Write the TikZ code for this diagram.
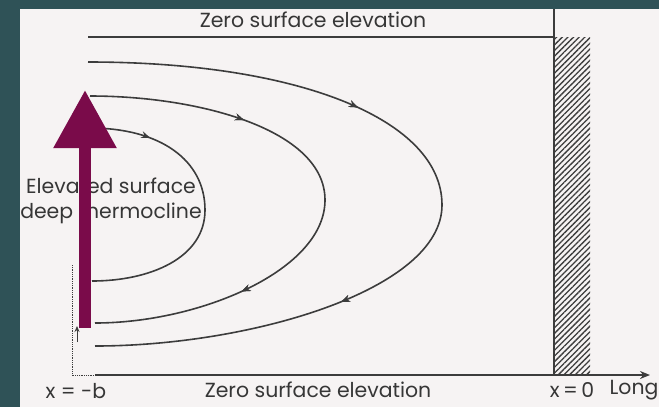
\documentclass[tikz,border=0pt]{standalone}
\usepackage{fontspec}
\setmainfont{Poppins}
\usetikzlibrary{arrows.meta,patterns.meta,decorations.markings}
\definecolor{slate}{HTML}{2F5257}
\definecolor{paper}{HTML}{F6F3F3}
\definecolor{plum}{HTML}{7A0B4A}
\definecolor{ink}{HTML}{3C3C3C}
\tikzset{
  lbl/.style={text=ink!90!black,font=\fontsize{20.5}{25}\selectfont,inner sep=0pt},
  flow/.style={ink,line width=1.6bp},
  tipA/.style={decoration={markings,mark=at position #1 with {\arrow{Stealth[length=9bp,width=7bp]}}},postaction={decorate}},
  surf/.style={ink,line width=2bp},
  wall/.style={pattern={Lines[angle=45,distance=4bp,line width=1.3bp]},pattern color=ink},
  bigarr/.style={plum,line width=12bp,-{Triangle[length=58bp,width=60bp]}},
}
\begin{document}
\begin{tikzpicture}[x=1bp,y=-1bp]
  \useasboundingbox (0,0) rectangle (659,407);
  \fill[slate] (0,0) rectangle (659,407);
  \fill[paper] (20,9) rectangle (659,407);
  % surfaces and wall
  \coordinate (ts) at (88,37);  \coordinate (te) at (554,37);
  \coordinate (wt) at (554,9);  \coordinate (wb) at (554,375);
  \coordinate (ax) at (95,375); \coordinate (axe) at (650,375);
  \fill[wall] (554,37) rectangle (590,375);
  \draw[surf] (ts) -- (te);
  \draw[surf] (wt) -- (wb);
  \draw[surf,-{Stealth[length=10bp,width=8bp]}] (ax) -- (axe);
  \draw[ink,densely dotted,line width=0.8bp] (72,265) -- (72,375) -- (ax);
  \draw[ink,line width=0.8bp,-{Stealth[length=6bp,width=5bp]}] (77,342) -- (77,326);
  % flow lines
  \coordinate (o1) at (88,62);  \coordinate (o2) at (95,346);
  \coordinate (m1) at (90,96);  \coordinate (m2) at (95,323);
  \coordinate (i1) at (90,128); \coordinate (i2) at (92,281);
  \draw[flow,tipA=0.34,tipA=0.69] (o1) .. controls (300,62) and (442,120) .. (442,205)
        .. controls (442,290) and (250,346) .. (o2);
  \draw[flow,tipA=0.28,tipA=0.73] (m1) .. controls (200,96) and (325,130) .. (325,200)
        .. controls (325,270) and (200,323) .. (m2);
  \draw[flow,tipA=0.2] (i1) .. controls (160,128) and (205,160) .. (205,210)
        .. controls (205,258) and (150,281) .. (i2);
  % labels
  \node[lbl] (topzero) at (313,20) {Zero surface elevation};
  \node[lbl] (botzero) at (318,390) {Zero surface elevation};
  \node[lbl] (xb) at (76,391) {x = -b};
  \node[lbl] (xzero) at (572,390) {x\,=\,0};
  \node[lbl] (long) at (634,390) {Long};
  \node[lbl,align=center] (elev) at (111,201) {Elevated surface\\deep thermocline};
  % purple arrow
  \coordinate (pb) at (85,328); \coordinate (pt) at (85,90);
  \draw[bigarr] (pb) -- (pt);
\end{tikzpicture}
\end{document}
